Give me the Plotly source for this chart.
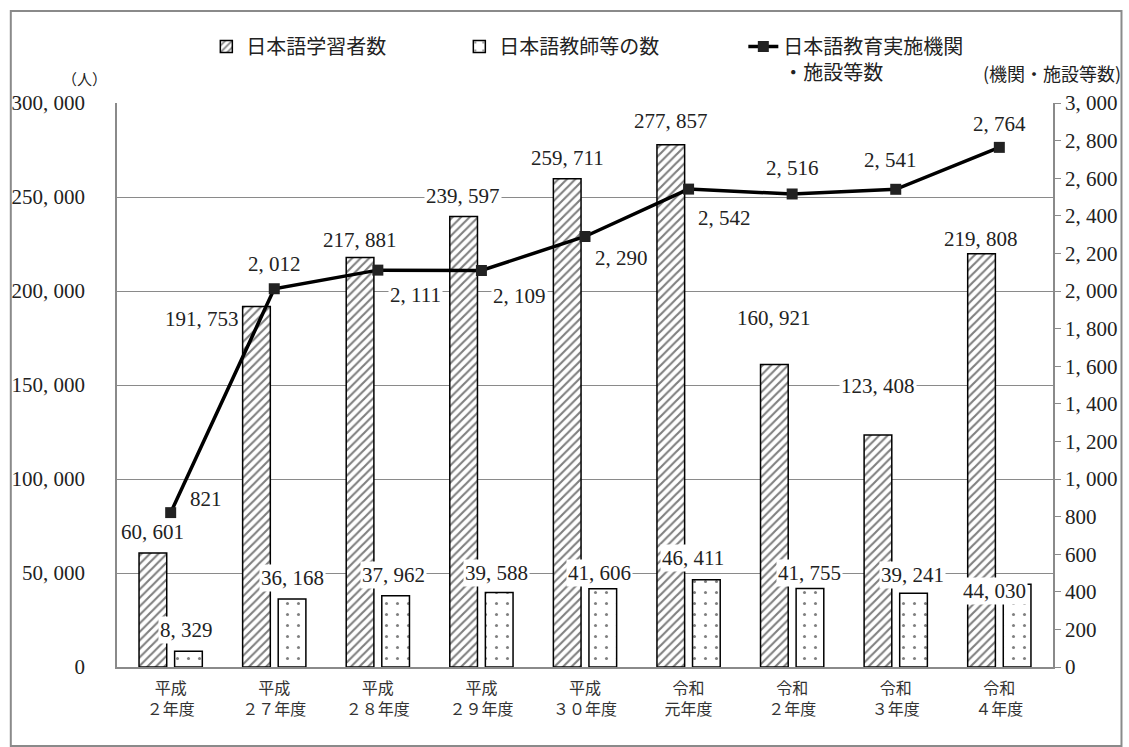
import plotly.graph_objects as go

# ---------------- data ----------------
categories = ["平成<br>２年度", "平成<br>２７年度", "平成<br>２８年度", "平成<br>２９年度",
              "平成<br>３０年度", "令和<br>元年度", "令和<br>２年度", "令和<br>３年度", "令和<br>４年度"]
learners = [60601, 191753, 217881, 239597, 259711, 277857, 160921, 123408, 219808]
teachers = [8329, 36168, 37962, 39588, 41606, 46411, 41755, 39241, 44030]
institutions = [821, 2012, 2111, 2109, 2290, 2542, 2516, 2541, 2764]
left_ticks = [0, 50000, 100000, 150000, 200000, 250000, 300000]
right_ticks = [0, 200, 400, 600, 800, 1000, 1200, 1400, 1600, 1800, 2000, 2200, 2400, 2600, 2800, 3000]
series_names = ["日本語学習者数", "日本語教師等の数", "日本語教育実施機関<br>・施設等数"]
left_title = "（人）"
right_title = "(機関・施設等数)"

# ---------------- label placement (style, pixels) ----------------
learner_dx = [-18, -72, -18, -18, -18, -18, -18, -18, -18]
learner_dy = [21, -12, 17, 21, 21, 24, 46, 49, 15]
teacher_dx = [16, 18, 16, 15, 14, 4, 17, 17, -5]
teacher_dy = [21, 21, 21, 20, 16, 22, 16, 18, -7]
inst_dx = [35, 0, 38, 38, 36, 36, 0, -5, 0]
inst_dy = [14, 25, -25, -25, -22, -29, 26, 29, 23]

W, H = 1129, 747
L, R, T, B = 115, 71, 103, 80
PW, PH = W - L - R, H - T - B


def px(x):
    return (x - L) / PW


def py(y):
    return (H - B - y) / PH


def fmt(v):
    return f"{v:,}".replace(",", ", ")


NUM_FONT = '"Liberation Serif", "Times New Roman", serif'
JP_FONT = '"Noto Sans CJK JP", sans-serif'
GRID = "#8a8a8a"

fig = go.Figure()
fig.add_trace(go.Bar(
    x=categories, y=learners, name=series_names[0], yaxis="y",
    marker=dict(color="white", line=dict(color="black", width=1.5),
                pattern=dict(shape="/", fgcolor="black", bgcolor="white", size=6, solidity=0.35)),
    legendwidth=208,
))
fig.add_trace(go.Bar(
    x=categories, y=teachers, name=series_names[1], yaxis="y",
    marker=dict(color="white", line=dict(color="black", width=1.5),
                pattern=dict(shape=".", fgcolor="black", bgcolor="white", size=11, solidity=0.06)),
    legendwidth=239,
))
fig.add_trace(go.Scatter(
    x=categories, y=institutions, name=series_names[2], yaxis="y2",
    mode="lines+markers", line=dict(color="black", width=3.5),
    marker=dict(symbol="square", size=11, color="#222222"),
    legendwidth=200,
))

ann = []
for i, c in enumerate(categories):
    ann.append(dict(x=c, y=learners[i], xref="x", yref="y", text=fmt(learners[i]),
                    xshift=learner_dx[i], yshift=learner_dy[i], showarrow=False,
                    bgcolor="white", borderpad=1, font=dict(family=NUM_FONT, size=21, color="#222")))
    ann.append(dict(x=c, y=teachers[i], xref="x", yref="y", text=fmt(teachers[i]),
                    xshift=teacher_dx[i], yshift=teacher_dy[i], showarrow=False,
                    bgcolor="white", borderpad=1, font=dict(family=NUM_FONT, size=21, color="#222")))
    ann.append(dict(x=c, y=institutions[i], xref="x", yref="y2", text=fmt(institutions[i]),
                    xshift=inst_dx[i], yshift=inst_dy[i], showarrow=False,
                    bgcolor="white", borderpad=1, font=dict(family=NUM_FONT, size=21, color="#222")))

ann.append(dict(x=px(82), y=py(79), xref="paper", yref="paper", text=left_title, showarrow=False,
                xanchor="center", yanchor="middle",
                font=dict(family=JP_FONT, size=15, color="#222")))
ann.append(dict(x=px(1057), y=py(73), xref="paper", yref="paper", text=right_title, showarrow=False,
                xanchor="center", yanchor="middle",
                font=dict(family=JP_FONT, size=18, color="#222")))

fig.update_layout(
    width=W, height=H,
    margin=dict(l=L, r=R, t=T, b=B),
    paper_bgcolor="white", plot_bgcolor="white",
    barmode="group", bargap=0.313, bargroupgap=0.222,
    showlegend=True,
    legend=dict(orientation="h", x=px(205), y=py(27), xanchor="left", yanchor="top",
                valign="top", font=dict(family=JP_FONT, size=20, color="#222"),
                bgcolor="rgba(0,0,0,0)", tracegroupgap=0),
    xaxis=dict(showline=True, linecolor=GRID, linewidth=1.5, ticks="", showgrid=False,
               tickfont=dict(family=JP_FONT, size=16, color="#333"), ticklabelstandoff=6),
    yaxis=dict(range=[0, 300000], tickvals=left_ticks, ticktext=[fmt(v) for v in left_ticks],
               showgrid=True, gridcolor=GRID, gridwidth=1.3, zeroline=False,
               showline=True, linecolor=GRID, linewidth=1.5, ticks="",
               ticklabelstandoff=26, tickfont=dict(family=NUM_FONT, size=21, color="#222")),
    yaxis2=dict(range=[0, 3000], overlaying="y", side="right", tickvals=right_ticks,
                ticktext=[fmt(v) for v in right_ticks], showgrid=False, zeroline=False,
                showline=True, linecolor=GRID, linewidth=1.5, ticks="outside", ticklen=6,
                tickcolor=GRID, tickwidth=1.3, tickfont=dict(family=NUM_FONT, size=21, color="#222")),
    annotations=ann,
    shapes=[dict(type="rect", xref="paper", yref="paper", x0=px(8), x1=px(1127), y0=py(746), y1=py(11),
                 line=dict(color=GRID, width=2), fillcolor="rgba(0,0,0,0)", layer="below")],
)

fig.write_html("out.html")
